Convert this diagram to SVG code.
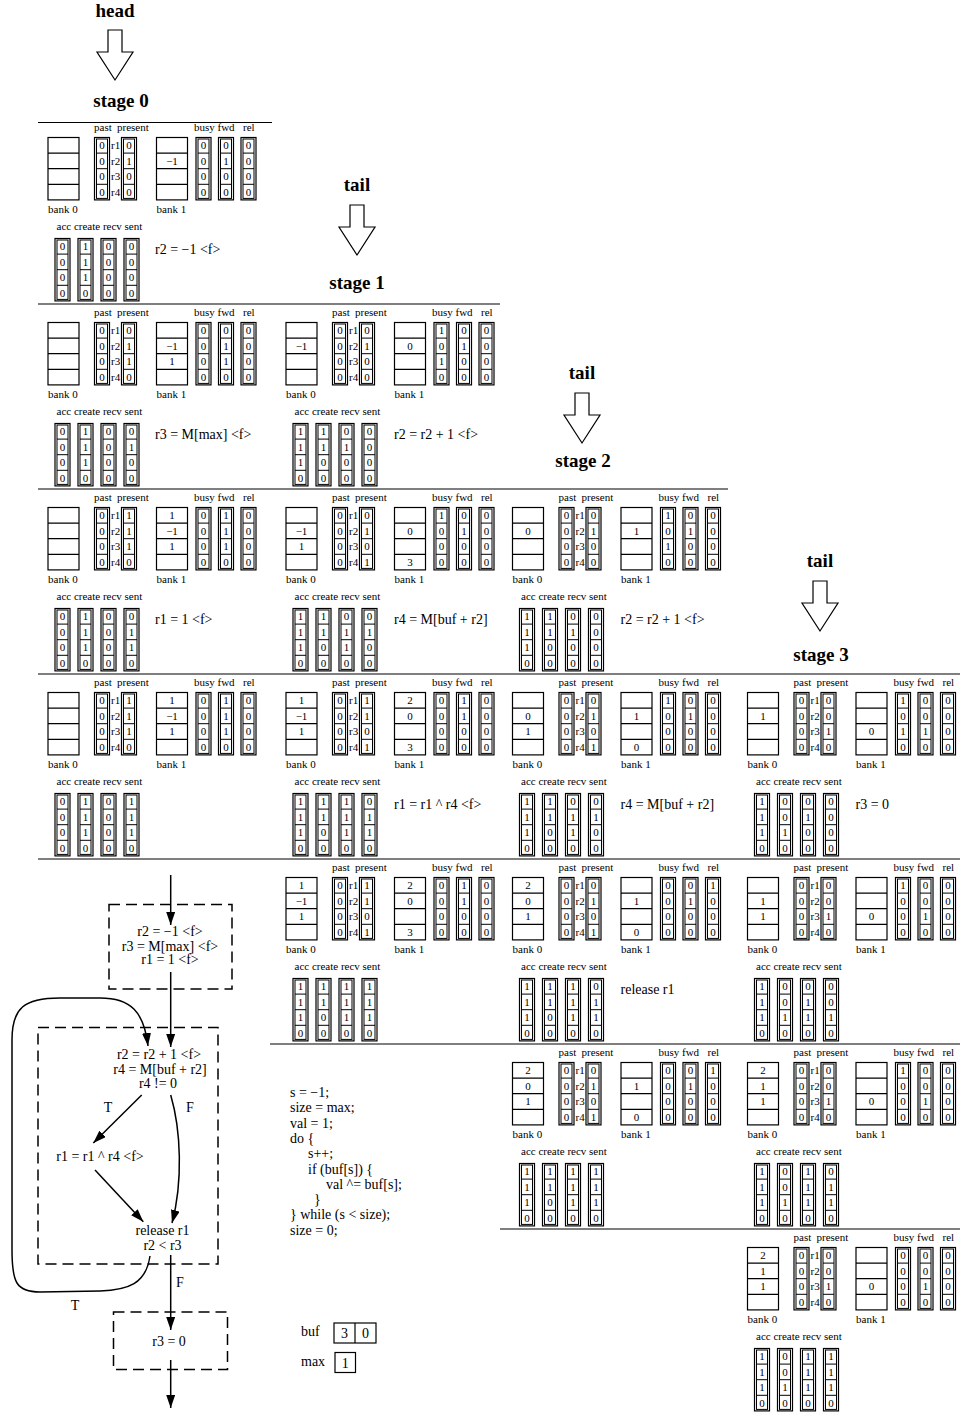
<svg xmlns="http://www.w3.org/2000/svg" xmlns:xlink="http://www.w3.org/1999/xlink" width="960" height="1415" viewBox="0 0 960 1415">
<style>
text{font-family:"Liberation Serif","Times New Roman",serif;fill:#000}
.l{font-size:11px}
.v text{font-size:11px;text-anchor:middle}
.op{font-size:14px}
.ft{font-size:14px;text-anchor:middle}
.code{font-size:14px}
.h{font-size:19px;font-weight:bold;text-anchor:middle}
.cell{fill:none;stroke:#000;stroke-width:1.2}
.inn{fill:none;stroke:#000;stroke-width:1}
.sep{fill:none;stroke:#000;stroke-width:1.2}
.dash{fill:none;stroke:#000;stroke-width:1.5;stroke-dasharray:11 6}
.arr{fill:#fff;stroke:#000;stroke-width:1.2}
.con{fill:none;stroke:#000;stroke-width:1.5;marker-end:url(#ah)}
.box{fill:none;stroke:#000;stroke-width:1.2}
</style>
<defs>
<marker id="ah" markerUnits="userSpaceOnUse" markerWidth="14" markerHeight="10" refX="13" refY="4.5" orient="auto"><path d="M0,0L13,4.5L0,9z" fill="#000"/></marker>
<polygon id="darrow" class="arr" points="-7,0 7,0 7,22 18,22 0,50 -18,22 -7,22"/>
<g id="bank"><rect class="cell" width="31" height="62.4"/><path class="cell" d="M0,15.6H31M0,31.2H31M0,46.8H31"/></g>
<g id="col"><rect class="cell" width="15" height="62.4"/><rect class="inn" x="2" y="1.5" width="11" height="59.4"/><path class="inn" d="M2,15.6H13M2,31.2H13M2,46.8H13"/></g>
<g id="frame">
<text class="l" x="46" y="-7">past</text><text class="l" x="69" y="-7">present</text>
<text class="l" x="146" y="-7">busy</text><text class="l" x="169.5" y="-7">fwd</text><text class="l" x="195" y="-7">rel</text>
<use href="#bank"/><use href="#col" x="46.5"/><use href="#col" x="73.5"/><use href="#bank" x="108.5"/>
<use href="#col" x="148"/><use href="#col" x="170.5"/><use href="#col" x="193"/>
<use href="#col" x="7" y="101"/><use href="#col" x="30" y="101"/><use href="#col" x="53" y="101"/><use href="#col" x="76" y="101"/>
<g class="v"><text x="54" y="11.6">0</text><text x="54" y="27.2">0</text><text x="54" y="42.8">0</text><text x="54" y="58.4">0</text></g>
<text class="l" x="63" y="11.6">r1</text><text class="l" x="63" y="27.2">r2</text><text class="l" x="63" y="42.8">r3</text><text class="l" x="63" y="58.4">r4</text>
<text class="l" x="0" y="75.5">bank 0</text><text class="l" x="108.5" y="75.5">bank 1</text>
<text class="l" x="8.5" y="92">acc create recv sent</text>
</g>
</defs>
<rect width="960" height="1415" fill="#fff"/>

<g id="headers">
<text class="h" x="115" y="17">head</text><use href="#darrow" x="115" y="30"/><text class="h" x="121" y="107">stage 0</text>
<text class="h" x="357" y="191">tail</text><use href="#darrow" x="357" y="205"/><text class="h" x="357" y="289">stage 1</text>
<text class="h" x="582" y="379">tail</text><use href="#darrow" x="582" y="393"/><text class="h" x="583" y="467">stage 2</text>
<text class="h" x="820" y="567">tail</text><use href="#darrow" x="820" y="581"/><text class="h" x="821" y="661">stage 3</text>
</g>

<g id="separators">
<path class="sep" d="M38,122.5H272M38,304H500M38,489H728M38,674H960M38,859H960M270,1044H960M500,1229H960"/>
</g>

<g id="panel-0-0" transform="translate(48,137.5)"><use href="#frame"/>
<g class="v">
<g transform="translate(0,11.6)"><text x="81">0</text><text x="155.5">0</text><text x="178">0</text><text x="200.5">0</text></g>
<g transform="translate(0,27.2)"><text x="81">1</text><text x="124">−1</text><text x="155.5">0</text><text x="178">1</text><text x="200.5">0</text></g>
<g transform="translate(0,42.8)"><text x="81">0</text><text x="155.5">0</text><text x="178">0</text><text x="200.5">0</text></g>
<g transform="translate(0,58.4)"><text x="81">0</text><text x="155.5">0</text><text x="178">0</text><text x="200.5">0</text></g>
<g transform="translate(0,112.6)"><text x="14.5">0</text><text x="37.5">1</text><text x="60.5">0</text><text x="83.5">0</text></g>
<g transform="translate(0,128.2)"><text x="14.5">0</text><text x="37.5">1</text><text x="60.5">0</text><text x="83.5">0</text></g>
<g transform="translate(0,143.8)"><text x="14.5">0</text><text x="37.5">1</text><text x="60.5">0</text><text x="83.5">0</text></g>
<g transform="translate(0,159.4)"><text x="14.5">0</text><text x="37.5">0</text><text x="60.5">0</text><text x="83.5">0</text></g>
</g>
<text class="op" x="107" y="116.5">r2 = −1 &lt;f&gt;</text>
</g>

<g id="panel-1-0" transform="translate(48,322.5)"><use href="#frame"/>
<g class="v">
<g transform="translate(0,11.6)"><text x="81">0</text><text x="155.5">0</text><text x="178">0</text><text x="200.5">0</text></g>
<g transform="translate(0,27.2)"><text x="81">1</text><text x="124">−1</text><text x="155.5">0</text><text x="178">1</text><text x="200.5">0</text></g>
<g transform="translate(0,42.8)"><text x="81">1</text><text x="124">1</text><text x="155.5">0</text><text x="178">1</text><text x="200.5">0</text></g>
<g transform="translate(0,58.4)"><text x="81">0</text><text x="155.5">0</text><text x="178">0</text><text x="200.5">0</text></g>
<g transform="translate(0,112.6)"><text x="14.5">0</text><text x="37.5">1</text><text x="60.5">0</text><text x="83.5">0</text></g>
<g transform="translate(0,128.2)"><text x="14.5">0</text><text x="37.5">1</text><text x="60.5">0</text><text x="83.5">1</text></g>
<g transform="translate(0,143.8)"><text x="14.5">0</text><text x="37.5">1</text><text x="60.5">0</text><text x="83.5">0</text></g>
<g transform="translate(0,159.4)"><text x="14.5">0</text><text x="37.5">0</text><text x="60.5">0</text><text x="83.5">0</text></g>
</g>
<text class="op" x="107" y="116.5">r3 = M[max] &lt;f&gt;</text>
</g>

<g id="panel-1-1" transform="translate(286,322.5)"><use href="#frame"/>
<g class="v">
<g transform="translate(0,11.6)"><text x="81">0</text><text x="155.5">1</text><text x="178">0</text><text x="200.5">0</text></g>
<g transform="translate(0,27.2)"><text x="15.5">−1</text><text x="81">1</text><text x="124">0</text><text x="155.5">0</text><text x="178">1</text><text x="200.5">0</text></g>
<g transform="translate(0,42.8)"><text x="81">0</text><text x="155.5">1</text><text x="178">0</text><text x="200.5">0</text></g>
<g transform="translate(0,58.4)"><text x="81">0</text><text x="155.5">0</text><text x="178">0</text><text x="200.5">0</text></g>
<g transform="translate(0,112.6)"><text x="14.5">1</text><text x="37.5">1</text><text x="60.5">0</text><text x="83.5">0</text></g>
<g transform="translate(0,128.2)"><text x="14.5">1</text><text x="37.5">1</text><text x="60.5">1</text><text x="83.5">0</text></g>
<g transform="translate(0,143.8)"><text x="14.5">1</text><text x="37.5">0</text><text x="60.5">0</text><text x="83.5">0</text></g>
<g transform="translate(0,159.4)"><text x="14.5">0</text><text x="37.5">0</text><text x="60.5">0</text><text x="83.5">0</text></g>
</g>
<text class="op" x="108" y="116.5">r2 = r2 + 1 &lt;f&gt;</text>
</g>

<g id="panel-2-0" transform="translate(48,507.5)"><use href="#frame"/>
<g class="v">
<g transform="translate(0,11.6)"><text x="81">1</text><text x="124">1</text><text x="155.5">0</text><text x="178">1</text><text x="200.5">0</text></g>
<g transform="translate(0,27.2)"><text x="81">1</text><text x="124">−1</text><text x="155.5">0</text><text x="178">1</text><text x="200.5">0</text></g>
<g transform="translate(0,42.8)"><text x="81">1</text><text x="124">1</text><text x="155.5">0</text><text x="178">1</text><text x="200.5">0</text></g>
<g transform="translate(0,58.4)"><text x="81">0</text><text x="155.5">0</text><text x="178">0</text><text x="200.5">0</text></g>
<g transform="translate(0,112.6)"><text x="14.5">0</text><text x="37.5">1</text><text x="60.5">0</text><text x="83.5">0</text></g>
<g transform="translate(0,128.2)"><text x="14.5">0</text><text x="37.5">1</text><text x="60.5">0</text><text x="83.5">1</text></g>
<g transform="translate(0,143.8)"><text x="14.5">0</text><text x="37.5">1</text><text x="60.5">0</text><text x="83.5">1</text></g>
<g transform="translate(0,159.4)"><text x="14.5">0</text><text x="37.5">0</text><text x="60.5">0</text><text x="83.5">0</text></g>
</g>
<text class="op" x="107" y="116.5">r1 = 1 &lt;f&gt;</text>
</g>

<g id="panel-2-1" transform="translate(286,507.5)"><use href="#frame"/>
<g class="v">
<g transform="translate(0,11.6)"><text x="81">0</text><text x="155.5">1</text><text x="178">0</text><text x="200.5">0</text></g>
<g transform="translate(0,27.2)"><text x="15.5">−1</text><text x="81">1</text><text x="124">0</text><text x="155.5">0</text><text x="178">1</text><text x="200.5">0</text></g>
<g transform="translate(0,42.8)"><text x="15.5">1</text><text x="81">0</text><text x="155.5">0</text><text x="178">0</text><text x="200.5">0</text></g>
<g transform="translate(0,58.4)"><text x="81">1</text><text x="124">3</text><text x="155.5">0</text><text x="178">0</text><text x="200.5">0</text></g>
<g transform="translate(0,112.6)"><text x="14.5">1</text><text x="37.5">1</text><text x="60.5">0</text><text x="83.5">0</text></g>
<g transform="translate(0,128.2)"><text x="14.5">1</text><text x="37.5">1</text><text x="60.5">1</text><text x="83.5">1</text></g>
<g transform="translate(0,143.8)"><text x="14.5">1</text><text x="37.5">0</text><text x="60.5">1</text><text x="83.5">0</text></g>
<g transform="translate(0,159.4)"><text x="14.5">0</text><text x="37.5">0</text><text x="60.5">0</text><text x="83.5">0</text></g>
</g>
<text class="op" x="108" y="116.5">r4 = M[buf + r2]</text>
</g>

<g id="panel-2-2" transform="translate(512.5,507.5)"><use href="#frame"/>
<g class="v">
<g transform="translate(0,11.6)"><text x="81">0</text><text x="155.5">1</text><text x="178">0</text><text x="200.5">0</text></g>
<g transform="translate(0,27.2)"><text x="15.5">0</text><text x="81">1</text><text x="124">1</text><text x="155.5">0</text><text x="178">1</text><text x="200.5">0</text></g>
<g transform="translate(0,42.8)"><text x="81">0</text><text x="155.5">1</text><text x="178">0</text><text x="200.5">0</text></g>
<g transform="translate(0,58.4)"><text x="81">0</text><text x="155.5">0</text><text x="178">0</text><text x="200.5">0</text></g>
<g transform="translate(0,112.6)"><text x="14.5">1</text><text x="37.5">1</text><text x="60.5">0</text><text x="83.5">0</text></g>
<g transform="translate(0,128.2)"><text x="14.5">1</text><text x="37.5">1</text><text x="60.5">1</text><text x="83.5">0</text></g>
<g transform="translate(0,143.8)"><text x="14.5">1</text><text x="37.5">0</text><text x="60.5">0</text><text x="83.5">0</text></g>
<g transform="translate(0,159.4)"><text x="14.5">0</text><text x="37.5">0</text><text x="60.5">0</text><text x="83.5">0</text></g>
</g>
<text class="op" x="108" y="116.5">r2 = r2 + 1 &lt;f&gt;</text>
</g>

<g id="panel-3-0" transform="translate(48,692.5)"><use href="#frame"/>
<g class="v">
<g transform="translate(0,11.6)"><text x="81">1</text><text x="124">1</text><text x="155.5">0</text><text x="178">1</text><text x="200.5">0</text></g>
<g transform="translate(0,27.2)"><text x="81">1</text><text x="124">−1</text><text x="155.5">0</text><text x="178">1</text><text x="200.5">0</text></g>
<g transform="translate(0,42.8)"><text x="81">1</text><text x="124">1</text><text x="155.5">0</text><text x="178">1</text><text x="200.5">0</text></g>
<g transform="translate(0,58.4)"><text x="81">0</text><text x="155.5">0</text><text x="178">0</text><text x="200.5">0</text></g>
<g transform="translate(0,112.6)"><text x="14.5">0</text><text x="37.5">1</text><text x="60.5">0</text><text x="83.5">1</text></g>
<g transform="translate(0,128.2)"><text x="14.5">0</text><text x="37.5">1</text><text x="60.5">0</text><text x="83.5">1</text></g>
<g transform="translate(0,143.8)"><text x="14.5">0</text><text x="37.5">1</text><text x="60.5">0</text><text x="83.5">1</text></g>
<g transform="translate(0,159.4)"><text x="14.5">0</text><text x="37.5">0</text><text x="60.5">0</text><text x="83.5">0</text></g>
</g>
</g>

<g id="panel-3-1" transform="translate(286,692.5)"><use href="#frame"/>
<g class="v">
<g transform="translate(0,11.6)"><text x="15.5">1</text><text x="81">1</text><text x="124">2</text><text x="155.5">0</text><text x="178">1</text><text x="200.5">0</text></g>
<g transform="translate(0,27.2)"><text x="15.5">−1</text><text x="81">1</text><text x="124">0</text><text x="155.5">0</text><text x="178">1</text><text x="200.5">0</text></g>
<g transform="translate(0,42.8)"><text x="15.5">1</text><text x="81">0</text><text x="155.5">0</text><text x="178">0</text><text x="200.5">0</text></g>
<g transform="translate(0,58.4)"><text x="81">1</text><text x="124">3</text><text x="155.5">0</text><text x="178">0</text><text x="200.5">0</text></g>
<g transform="translate(0,112.6)"><text x="14.5">1</text><text x="37.5">1</text><text x="60.5">1</text><text x="83.5">0</text></g>
<g transform="translate(0,128.2)"><text x="14.5">1</text><text x="37.5">1</text><text x="60.5">1</text><text x="83.5">1</text></g>
<g transform="translate(0,143.8)"><text x="14.5">1</text><text x="37.5">0</text><text x="60.5">1</text><text x="83.5">1</text></g>
<g transform="translate(0,159.4)"><text x="14.5">0</text><text x="37.5">0</text><text x="60.5">0</text><text x="83.5">0</text></g>
</g>
<text class="op" x="108" y="116.5">r1 = r1 ^ r4 &lt;f&gt;</text>
</g>

<g id="panel-3-2" transform="translate(512.5,692.5)"><use href="#frame"/>
<g class="v">
<g transform="translate(0,11.6)"><text x="81">0</text><text x="155.5">1</text><text x="178">0</text><text x="200.5">0</text></g>
<g transform="translate(0,27.2)"><text x="15.5">0</text><text x="81">1</text><text x="124">1</text><text x="155.5">0</text><text x="178">1</text><text x="200.5">0</text></g>
<g transform="translate(0,42.8)"><text x="15.5">1</text><text x="81">0</text><text x="155.5">0</text><text x="178">0</text><text x="200.5">0</text></g>
<g transform="translate(0,58.4)"><text x="81">1</text><text x="124">0</text><text x="155.5">0</text><text x="178">0</text><text x="200.5">0</text></g>
<g transform="translate(0,112.6)"><text x="14.5">1</text><text x="37.5">1</text><text x="60.5">0</text><text x="83.5">0</text></g>
<g transform="translate(0,128.2)"><text x="14.5">1</text><text x="37.5">1</text><text x="60.5">1</text><text x="83.5">1</text></g>
<g transform="translate(0,143.8)"><text x="14.5">1</text><text x="37.5">0</text><text x="60.5">1</text><text x="83.5">0</text></g>
<g transform="translate(0,159.4)"><text x="14.5">0</text><text x="37.5">0</text><text x="60.5">0</text><text x="83.5">0</text></g>
</g>
<text class="op" x="108" y="116.5">r4 = M[buf + r2]</text>
</g>

<g id="panel-3-3" transform="translate(747.5,692.5)"><use href="#frame"/>
<g class="v">
<g transform="translate(0,11.6)"><text x="81">0</text><text x="155.5">1</text><text x="178">0</text><text x="200.5">0</text></g>
<g transform="translate(0,27.2)"><text x="15.5">1</text><text x="81">0</text><text x="155.5">0</text><text x="178">0</text><text x="200.5">0</text></g>
<g transform="translate(0,42.8)"><text x="81">1</text><text x="124">0</text><text x="155.5">1</text><text x="178">1</text><text x="200.5">0</text></g>
<g transform="translate(0,58.4)"><text x="81">0</text><text x="155.5">0</text><text x="178">0</text><text x="200.5">0</text></g>
<g transform="translate(0,112.6)"><text x="14.5">1</text><text x="37.5">0</text><text x="60.5">0</text><text x="83.5">0</text></g>
<g transform="translate(0,128.2)"><text x="14.5">1</text><text x="37.5">0</text><text x="60.5">1</text><text x="83.5">0</text></g>
<g transform="translate(0,143.8)"><text x="14.5">1</text><text x="37.5">1</text><text x="60.5">0</text><text x="83.5">0</text></g>
<g transform="translate(0,159.4)"><text x="14.5">0</text><text x="37.5">0</text><text x="60.5">0</text><text x="83.5">0</text></g>
</g>
<text class="op" x="108" y="116.5">r3 = 0</text>
</g>

<g id="panel-4-1" transform="translate(286,877.5)"><use href="#frame"/>
<g class="v">
<g transform="translate(0,11.6)"><text x="15.5">1</text><text x="81">1</text><text x="124">2</text><text x="155.5">0</text><text x="178">1</text><text x="200.5">0</text></g>
<g transform="translate(0,27.2)"><text x="15.5">−1</text><text x="81">1</text><text x="124">0</text><text x="155.5">0</text><text x="178">1</text><text x="200.5">0</text></g>
<g transform="translate(0,42.8)"><text x="15.5">1</text><text x="81">0</text><text x="155.5">0</text><text x="178">0</text><text x="200.5">0</text></g>
<g transform="translate(0,58.4)"><text x="81">1</text><text x="124">3</text><text x="155.5">0</text><text x="178">0</text><text x="200.5">0</text></g>
<g transform="translate(0,112.6)"><text x="14.5">1</text><text x="37.5">1</text><text x="60.5">1</text><text x="83.5">1</text></g>
<g transform="translate(0,128.2)"><text x="14.5">1</text><text x="37.5">1</text><text x="60.5">1</text><text x="83.5">1</text></g>
<g transform="translate(0,143.8)"><text x="14.5">1</text><text x="37.5">0</text><text x="60.5">1</text><text x="83.5">1</text></g>
<g transform="translate(0,159.4)"><text x="14.5">0</text><text x="37.5">0</text><text x="60.5">0</text><text x="83.5">0</text></g>
</g>
</g>

<g id="panel-4-2" transform="translate(512.5,877.5)"><use href="#frame"/>
<g class="v">
<g transform="translate(0,11.6)"><text x="15.5">2</text><text x="81">0</text><text x="155.5">0</text><text x="178">0</text><text x="200.5">1</text></g>
<g transform="translate(0,27.2)"><text x="15.5">0</text><text x="81">1</text><text x="124">1</text><text x="155.5">0</text><text x="178">1</text><text x="200.5">0</text></g>
<g transform="translate(0,42.8)"><text x="15.5">1</text><text x="81">0</text><text x="155.5">0</text><text x="178">0</text><text x="200.5">0</text></g>
<g transform="translate(0,58.4)"><text x="81">1</text><text x="124">0</text><text x="155.5">0</text><text x="178">0</text><text x="200.5">0</text></g>
<g transform="translate(0,112.6)"><text x="14.5">1</text><text x="37.5">1</text><text x="60.5">1</text><text x="83.5">0</text></g>
<g transform="translate(0,128.2)"><text x="14.5">1</text><text x="37.5">1</text><text x="60.5">1</text><text x="83.5">1</text></g>
<g transform="translate(0,143.8)"><text x="14.5">1</text><text x="37.5">0</text><text x="60.5">1</text><text x="83.5">1</text></g>
<g transform="translate(0,159.4)"><text x="14.5">0</text><text x="37.5">0</text><text x="60.5">0</text><text x="83.5">0</text></g>
</g>
<text class="op" x="108" y="116.5">release r1</text>
</g>

<g id="panel-4-3" transform="translate(747.5,877.5)"><use href="#frame"/>
<g class="v">
<g transform="translate(0,11.6)"><text x="81">0</text><text x="155.5">1</text><text x="178">0</text><text x="200.5">0</text></g>
<g transform="translate(0,27.2)"><text x="15.5">1</text><text x="81">0</text><text x="155.5">0</text><text x="178">0</text><text x="200.5">0</text></g>
<g transform="translate(0,42.8)"><text x="15.5">1</text><text x="81">1</text><text x="124">0</text><text x="155.5">0</text><text x="178">1</text><text x="200.5">0</text></g>
<g transform="translate(0,58.4)"><text x="81">0</text><text x="155.5">0</text><text x="178">0</text><text x="200.5">0</text></g>
<g transform="translate(0,112.6)"><text x="14.5">1</text><text x="37.5">0</text><text x="60.5">0</text><text x="83.5">0</text></g>
<g transform="translate(0,128.2)"><text x="14.5">1</text><text x="37.5">0</text><text x="60.5">1</text><text x="83.5">0</text></g>
<g transform="translate(0,143.8)"><text x="14.5">1</text><text x="37.5">1</text><text x="60.5">1</text><text x="83.5">1</text></g>
<g transform="translate(0,159.4)"><text x="14.5">0</text><text x="37.5">0</text><text x="60.5">0</text><text x="83.5">0</text></g>
</g>
</g>

<g id="panel-5-2" transform="translate(512.5,1062.5)"><use href="#frame"/>
<g class="v">
<g transform="translate(0,11.6)"><text x="15.5">2</text><text x="81">0</text><text x="155.5">0</text><text x="178">0</text><text x="200.5">1</text></g>
<g transform="translate(0,27.2)"><text x="15.5">0</text><text x="81">1</text><text x="124">1</text><text x="155.5">0</text><text x="178">1</text><text x="200.5">0</text></g>
<g transform="translate(0,42.8)"><text x="15.5">1</text><text x="81">0</text><text x="155.5">0</text><text x="178">0</text><text x="200.5">0</text></g>
<g transform="translate(0,58.4)"><text x="81">1</text><text x="124">0</text><text x="155.5">0</text><text x="178">0</text><text x="200.5">0</text></g>
<g transform="translate(0,112.6)"><text x="14.5">1</text><text x="37.5">1</text><text x="60.5">1</text><text x="83.5">1</text></g>
<g transform="translate(0,128.2)"><text x="14.5">1</text><text x="37.5">1</text><text x="60.5">1</text><text x="83.5">1</text></g>
<g transform="translate(0,143.8)"><text x="14.5">1</text><text x="37.5">0</text><text x="60.5">1</text><text x="83.5">1</text></g>
<g transform="translate(0,159.4)"><text x="14.5">0</text><text x="37.5">0</text><text x="60.5">0</text><text x="83.5">0</text></g>
</g>
</g>

<g id="panel-5-3" transform="translate(747.5,1062.5)"><use href="#frame"/>
<g class="v">
<g transform="translate(0,11.6)"><text x="15.5">2</text><text x="81">0</text><text x="155.5">1</text><text x="178">0</text><text x="200.5">0</text></g>
<g transform="translate(0,27.2)"><text x="15.5">1</text><text x="81">0</text><text x="155.5">0</text><text x="178">0</text><text x="200.5">0</text></g>
<g transform="translate(0,42.8)"><text x="15.5">1</text><text x="81">1</text><text x="124">0</text><text x="155.5">0</text><text x="178">1</text><text x="200.5">0</text></g>
<g transform="translate(0,58.4)"><text x="81">0</text><text x="155.5">0</text><text x="178">0</text><text x="200.5">0</text></g>
<g transform="translate(0,112.6)"><text x="14.5">1</text><text x="37.5">0</text><text x="60.5">1</text><text x="83.5">0</text></g>
<g transform="translate(0,128.2)"><text x="14.5">1</text><text x="37.5">0</text><text x="60.5">1</text><text x="83.5">1</text></g>
<g transform="translate(0,143.8)"><text x="14.5">1</text><text x="37.5">1</text><text x="60.5">1</text><text x="83.5">1</text></g>
<g transform="translate(0,159.4)"><text x="14.5">0</text><text x="37.5">0</text><text x="60.5">0</text><text x="83.5">0</text></g>
</g>
</g>

<g id="panel-6-3" transform="translate(747.5,1247.5)"><use href="#frame"/>
<g class="v">
<g transform="translate(0,11.6)"><text x="15.5">2</text><text x="81">0</text><text x="155.5">0</text><text x="178">0</text><text x="200.5">0</text></g>
<g transform="translate(0,27.2)"><text x="15.5">1</text><text x="81">0</text><text x="155.5">0</text><text x="178">0</text><text x="200.5">0</text></g>
<g transform="translate(0,42.8)"><text x="15.5">1</text><text x="81">1</text><text x="124">0</text><text x="155.5">0</text><text x="178">1</text><text x="200.5">0</text></g>
<g transform="translate(0,58.4)"><text x="81">0</text><text x="155.5">0</text><text x="178">0</text><text x="200.5">0</text></g>
<g transform="translate(0,112.6)"><text x="14.5">1</text><text x="37.5">0</text><text x="60.5">1</text><text x="83.5">1</text></g>
<g transform="translate(0,128.2)"><text x="14.5">1</text><text x="37.5">0</text><text x="60.5">1</text><text x="83.5">1</text></g>
<g transform="translate(0,143.8)"><text x="14.5">1</text><text x="37.5">1</text><text x="60.5">1</text><text x="83.5">1</text></g>
<g transform="translate(0,159.4)"><text x="14.5">0</text><text x="37.5">0</text><text x="60.5">0</text><text x="83.5">0</text></g>
</g>
</g>

<g id="node-init"><rect class="dash" x="109" y="904.5" width="123" height="84.5"/>
<text class="ft" x="170" y="935.5">r2 = −1 &lt;f&gt;</text><text class="ft" x="170" y="950.5">r3 = M[max] &lt;f&gt;</text><text class="ft" x="170" y="964">r1 = 1 &lt;f&gt;</text></g>
<g id="node-loop"><rect class="dash" x="38" y="1027.5" width="180" height="236.5"/>
<text class="ft" x="159" y="1059">r2 = r2 + 1 &lt;f&gt;</text><text class="ft" x="160" y="1074">r4 = M[buf + r2]</text><text class="ft" x="158" y="1087.5">r4 != 0</text></g>
<g id="node-xor"><text class="ft" x="100" y="1161">r1 = r1 ^ r4 &lt;f&gt;</text></g>
<g id="node-release"><text class="ft" x="162.5" y="1234.5">release r1</text><text class="ft" x="162.5" y="1249.5">r2 &lt; r3</text></g>
<g id="node-exit"><rect class="dash" x="113.5" y="1312" width="114" height="57.5"/><text class="ft" x="169" y="1346">r3 = 0</text></g>

<g id="connectors">
<path class="con" d="M170.7,875V925"/>
<path class="con" d="M170.7,972V1047"/>
<path class="con" d="M150,1256C146,1284 128,1290 100,1291L40,1292C16,1292 12,1282 12,1250L12,1040C12,1008 24,998 60,998L100,998C131,998 144,1012 148,1046"/>
<path class="con" d="M141.7,1095L93.3,1143"/>
<path class="con" d="M170.7,1095C181,1130 183,1182 172,1223"/>
<path class="con" d="M95,1170L143.3,1221.7"/>
<path class="con" d="M170.7,1255V1330"/>
<path class="con" d="M170.7,1360V1408"/>
<text class="ft" x="108" y="1112">T</text><text class="ft" x="190" y="1112">F</text>
<text class="ft" x="180" y="1287">F</text><text class="ft" x="75" y="1310">T</text>
</g>

<g id="code">
<text class="code" x="290" y="1097">s = −1;</text>
<text class="code" x="290" y="1112.3">size = max;</text>
<text class="code" x="290" y="1127.6">val = 1;</text>
<text class="code" x="290" y="1142.9">do {</text>
<text class="code" x="308" y="1158.2">s++;</text>
<text class="code" x="308" y="1173.5">if (buf[s]) {</text>
<text class="code" x="326" y="1188.8">val ^= buf[s];</text>
<text class="code" x="314" y="1204.1">}</text>
<text class="code" x="290" y="1219.4">} while (s &lt; size);</text>
<text class="code" x="290" y="1234.7">size = 0;</text>
</g>

<g id="memory">
<text class="code" x="301" y="1336">buf</text>
<rect class="box" x="334" y="1323" width="42" height="20"/><path class="box" d="M355,1323V1343"/>
<text class="ft" x="344.5" y="1338">3</text><text class="ft" x="365.5" y="1338">0</text>
<text class="code" x="301" y="1366">max</text>
<rect class="box" x="335" y="1352.5" width="20.5" height="20"/>
<text class="ft" x="345.2" y="1367.5">1</text>
</g>
</svg>
